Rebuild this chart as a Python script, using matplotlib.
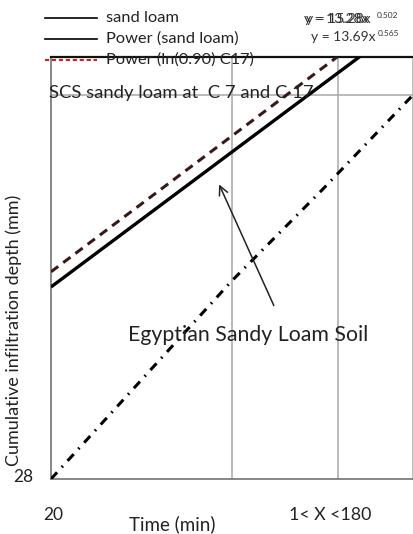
import matplotlib
matplotlib.use("Agg")
import matplotlib.pyplot as plt
from matplotlib.lines import Line2D

plt.rcParams['font.family'] = ['Lato', 'DejaVu Sans']
plt.rcParams['lines.scale_dashes'] = False

# ---- data ----
time_min = [20, 60, 100, 140, 180]
sand_loam = [73.5, 89.5, 105.5, 121.5, 137.5]          # Egyptian sandy loam (power fit)
power_c17 = [77.1, 93.2, 109.3, 125.4, 141.5]          # Power (ln(0.90) C17)
scs_sandy_loam = [28.0, 51.5, 75.0, 96.6, 119.0]       # SCS sandy loam at C7 and C17

legend_labels = ["sand loam", "Power (sand loam)", "Power (ln(0.90) C17)"]
x_grid = [100, 147]
y_grid = [119]

W, H = 414, 534
fig = plt.figure(figsize=(W / 100, H / 100), dpi=100)
L, R, T, B = 51, 413, 57, 479
ax = fig.add_axes([L / W, 1 - B / H, (R - L) / W, (B - T) / H])
ax.set_xlim(20, 180)
ax.set_ylim(28, 128)
ax.set_xticks([])
ax.set_yticks([])
for xv in x_grid:
    ax.axvline(xv, color='#a8a8a8', lw=1.1, zorder=1)
for yv in y_grid:
    ax.axhline(yv, color='#a8a8a8', lw=1.1, zorder=1)

ax.spines['top'].set_color('#111111')
ax.spines['top'].set_linewidth(1.6)
ax.spines['left'].set_color('#666666')
ax.spines['bottom'].set_color('#666666')
ax.spines['right'].set_color('#aaaaaa')
for s in ['left', 'bottom', 'right']:
    ax.spines[s].set_linewidth(1.1)

ax.plot(time_min, sand_loam, color='black', lw=2.4, zorder=3, solid_capstyle='butt')
ax.plot(time_min, power_c17, color='#3a1818', lw=2.2, zorder=3,
        dashes=(6.5, 4.5), dash_capstyle='butt')
ax.plot(time_min, scs_sandy_loam, color='black', lw=2.2, zorder=3,
        dashes=(6.5, 5, 1.2, 5), dash_capstyle='butt')

# annotation
ax.annotate('', xy=(93.8, 98.4), xytext=(119, 68.5),
            arrowprops=dict(arrowstyle='->', color='#222222', lw=1.1,
                            mutation_scale=16))
ax.text(107, 62.1, "Egyptian Sandy Loam Soil", fontsize=15.3, color='#222222',
        ha='center', va='center')
fig.text(49 / W, 1 - 93 / H, "SCS sandy loam at  C 7 and C 17", fontsize=13.3,
         color='#222222', ha='left', va='center')

# manual legend (outside the axes, at the top)
rows_y = [18, 39, 60]
styles = [dict(color='black', lw=1.2), dict(color='black', lw=1.2),
          dict(color='#cc2222', lw=1.5, dashes=(3, 2))]
for yy, lab, st in zip(rows_y, legend_labels, styles):
    fig.add_artist(Line2D([45 / W, 97 / W], [1 - yy / H, 1 - yy / H],
                          transform=fig.transFigure, **st))
    fig.text(106 / W, 1 - yy / H, lab, fontsize=11.8, color='#222222',
             ha='left', va='center')

# trendline equations (overlapping as in the original)
fig.text(306 / W, 1 - 19 / H, "y = 15.28x", fontsize=10, color='#333333', va='center')
fig.text(304 / W, 1 - 19 / H, "y = 13.28x", fontsize=10, color='#333333', va='center')
fig.text(377 / W, 1 - 15 / H, "0.502", fontsize=6, color='#333333', va='center')
fig.text(311 / W, 1 - 37 / H, "y = 13.69x", fontsize=10, color='#333333', va='center')
fig.text(378 / W, 1 - 33 / H, "0.565", fontsize=6, color='#333333', va='center')

# axis texts
fig.text(14 / W, 1 - 330 / H, "Cumulative infiltration depth (mm)", fontsize=13.0,
         rotation=90, color='#222222', ha='center', va='center')
fig.text(23 / W, 1 - 477 / H, "28", fontsize=12.5, color='#222222', ha='center', va='center')
fig.text(53 / W, 1 - 515 / H, "20", fontsize=12.5, color='#222222', ha='center', va='center')
fig.text(172 / W, 1 - 524 / H, "Time (min)", fontsize=13.5, color='#222222',
         ha='center', va='center')
fig.text(330 / W, 1 - 515 / H, "1< X <180", fontsize=12.8, color='#222222',
         ha='center', va='center')

fig.savefig("out.png", dpi=100)
